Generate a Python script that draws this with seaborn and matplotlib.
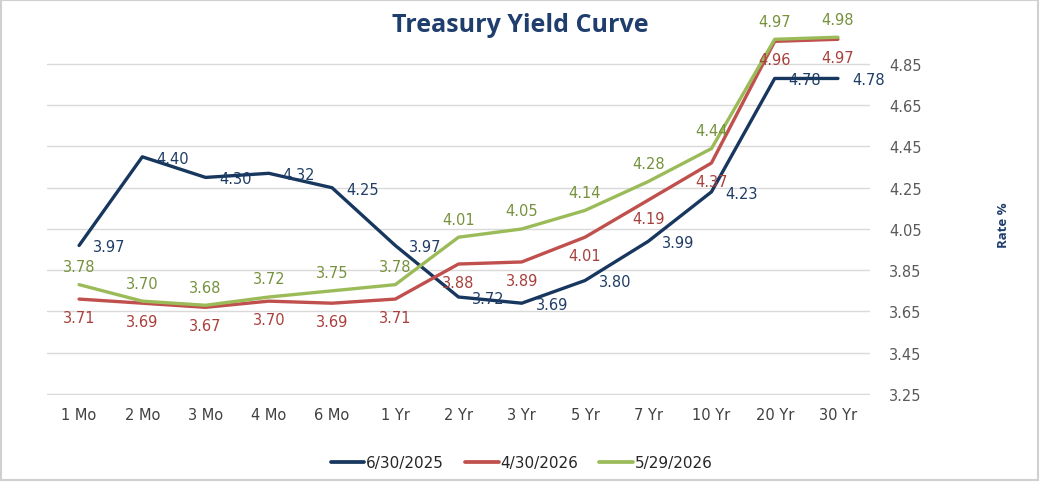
import numpy as np
import pandas as pd
import seaborn as sns
import matplotlib.pyplot as plt
from matplotlib.lines import Line2D
from matplotlib.patches import Rectangle

maturities = ['1 Mo', '2 Mo', '3 Mo', '4 Mo', '6 Mo', '1 Yr', '2 Yr',
              '3 Yr', '5 Yr', '7 Yr', '10 Yr', '20 Yr', '30 Yr']
series_names = ['6/30/2025', '4/30/2026', '5/29/2026']
jun_2025 = [3.97, 4.40, 4.30, 4.32, 4.25, 3.97, 3.72, 3.69, 3.80, 3.99, 4.23, 4.78, 4.78]
apr_2026 = [3.71, 3.69, 3.67, 3.70, 3.69, 3.71, 3.88, 3.89, 4.01, 4.19, 4.37, 4.96, 4.97]
may_2026 = [3.78, 3.70, 3.68, 3.72, 3.75, 3.78, 4.01, 4.05, 4.14, 4.28, 4.44, 4.97, 4.98]
y_ticks = [3.25, 3.45, 3.65, 3.85, 4.05, 4.25, 4.45, 4.65, 4.85]

line_colors = ['#17375E', '#C0504D', '#9BBB59']
label_colors = ['#1F3D66', '#A8403D', '#76923C']

df = pd.DataFrame({
    'Maturity': maturities * 3,
    'Rate': jun_2025 + apr_2026 + may_2026,
    'Series': np.repeat(series_names, len(maturities)),
})

sns.set_theme(style='white')
plt.rcParams['font.family'] = ['DejaVu Sans']

fig = plt.figure(figsize=(10.41, 4.85), dpi=100)
ax = fig.add_axes([0.0456, 0.1836, 0.7897, 0.7546])

sns.lineplot(data=df, x='Maturity', y='Rate', hue='Series', hue_order=series_names,
             palette=line_colors, linewidth=2.4, sort=False, legend=False, ax=ax)

# data labels: navy to the right, red below, green above
offsets = [(10, -1, 'left'), (0, -13, 'center'), (0, 13, 'center')]
for vals, col, (dx, dy, ha) in zip([jun_2025, apr_2026, may_2026], label_colors, offsets):
    for i, v in enumerate(vals):
        ax.annotate(f'{v:.2f}', (i, v), xytext=(dx, dy), textcoords='offset points',
                    ha=ha, va='center', color=col, fontsize=10.5, clip_on=False)

ax.set_xlim(-0.5, len(maturities) - 0.5)
ax.set_ylim(3.245, 5.02)
ax.set_yticks(y_ticks)
ax.set_yticklabels([f'{t:.2f}' for t in y_ticks])
ax.yaxis.tick_right()
ax.grid(axis='y', color='#D9D9D9', linewidth=1)
ax.set_axisbelow(True)
ax.tick_params(axis='y', length=0, pad=14, labelsize=10.5, labelcolor='#595959')
ax.tick_params(axis='x', length=0, pad=9, labelsize=10.5, labelcolor='#404040')
ax.set_xlabel('')
ax.set_ylabel('')
for s in ax.spines.values():
    s.set_visible(False)

fig.text(0.4995, 0.948, 'Treasury Yield Curve', ha='center', va='center',
         fontsize=18, fontweight='bold', color='#1F3E6E', family='Open Sans')
fig.text(0.9635, 1 - 225 / 485, 'Rate %', rotation=90, ha='center', va='center',
         fontsize=9.5, fontweight='bold', color='#1F3E6E', family='Open Sans')

handles = [Line2D([], [], color=c, linewidth=2.7) for c in line_colors]
fig.legend(handles, series_names, loc='center', bbox_to_anchor=(0.501, 1 - 464 / 485),
           ncol=3, frameon=False, fontsize=11, handlelength=2.2, handletextpad=0.1,
           columnspacing=1.4, labelcolor='#262626')

fig.patches.append(Rectangle((0.001, 0.008), 0.996, 0.99, transform=fig.transFigure,
                             fill=False, edgecolor='#D0D0D0', linewidth=1.5))

fig.savefig('out.png', dpi=100, facecolor='white')
